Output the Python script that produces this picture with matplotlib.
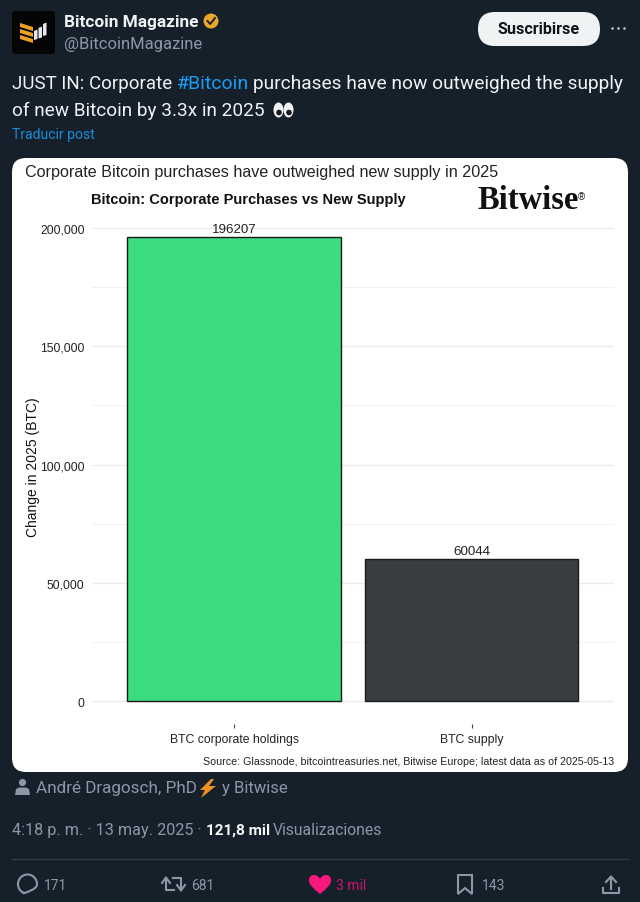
import matplotlib
matplotlib.use("Agg")
import matplotlib.pyplot as plt
from matplotlib.patches import FancyBboxPatch, Polygon, Circle, Ellipse, PathPatch
from matplotlib.path import Path

# chart data
categories = ["BTC corporate holdings", "BTC supply"]
btc_change = [196207, 60044]
bar_colors = ["#3BDD80", "#3A3D40"]
y_ticks = [0, 50000, 100000, 150000, 200000]
y_minor = [25000, 75000, 125000, 175000]

BG = "#15202B"
GREY = "#8B98A5"
WHITE = "#F0F3F5"
BLUE = "#1D9BF0"
W, H = 640, 903


def px_axes(fig, left, top, right, bottom):
    return fig.add_axes([left / W, 1 - bottom / H, (right - left) / W, (bottom - top) / H])


fig = plt.figure(figsize=(6.4, 9.03), dpi=100, facecolor=BG)

# tweet chrome, in pixel coordinates
bg = fig.add_axes([0, 0, 1, 1])
bg.set_xlim(0, W)
bg.set_ylim(H, 0)
bg.axis("off")


def txt(x, y, s, color=WHITE, size=11, weight="normal", ha="left", family="Roboto"):
    return bg.text(x, y, s, color=color, fontsize=size, fontweight=weight, ha=ha, va="center", family=family)


def rbox(x0, y0, x1, y1, r, fc):
    p = FancyBboxPatch((x0 + r, y0 + r), x1 - x0 - 2 * r, y1 - y0 - 2 * r,
                       boxstyle="round,pad=%g,rounding_size=%g" % (r, r), fc=fc, ec="none")
    bg.add_patch(p)


# avatar
rbox(12, 12, 55, 55, 3, "#050505")
for dy in [0, 6, 12]:
    bg.add_patch(Polygon([(20, 24 + dy), (33, 28 + dy), (33, 32 + dy), (20, 28 + dy)], fc="#F0A020", ec="none"))
for x0, top, low in [(34, 32, 41), (38.5, 29, 39.5), (43, 25, 37)]:
    bg.add_patch(Polygon([(x0, top), (x0 + 3.5, top - 1.5), (x0 + 3.5, low - 1), (x0, low)], fc="#E8E8E8", ec="none"))

txt(64, 22, "Bitcoin Magazine", "#F0F3F5", 12.4, "bold")
bg.add_patch(Circle((211, 22), 7.5, fc="#E8A82A", ec="none"))
bg.plot([207.5, 210.2, 215], [22, 25, 19], color="#15202B", lw=1.4)
txt(64, 44, "@BitcoinMagazine", GREY, 12)

rbox(478, 13, 600, 47, 17, "#EFF3F4")
txt(539, 29, "Suscribirse", "#0F1419", 11.6, "bold", ha="center")
bg.scatter([612, 618, 624], [29, 29, 29], s=3.5, color="#C0C8CE", linewidths=0)

# tweet text
txt(12, 84, "JUST IN: Corporate", WHITE, 13.5)
txt(177, 84, "#Bitcoin", BLUE, 14)
txt(253, 84, "purchases have now outweighed the supply", WHITE, 13.8)
txt(12, 111, "of new Bitcoin by 3.3x in 2025", WHITE, 13.7)
for ex in [278.5, 288.5]:
    bg.add_patch(Ellipse((ex, 111), 10, 15, fc="#F2F2F2", ec="none"))
    bg.add_patch(Circle((ex + 0.5, 113.5), 2.8, fc="#1A1A1A", ec="none"))
txt(12, 135, "Traducir post", "#1A8CD8", 10.1)

# chart card
rbox(12, 159, 628, 773, 14, "white")
txt(25, 172, "Corporate Bitcoin purchases have outweighed new supply in 2025", "#222222", 11.6, family="Liberation Sans")
txt(91, 200.5, "Bitcoin: Corporate Purchases vs New Supply", "#111111", 10.5, "bold", family="Liberation Sans")
txt(477, 201, "Bitwise", "#111111", 23.5, "bold", family="Liberation Serif")
txt(578, 197, "\u00ae", "#111111", 7, family="Liberation Sans")

# below the card
bg.add_patch(Circle((22.5, 783.5), 3.6, fc=GREY, ec="none"))
bg.add_patch(Polygon([(15, 796), (16, 790), (19, 788.5), (26, 788.5), (29, 790), (30, 796)], fc=GREY, ec="none"))
txt(36, 789, "Andr\u00e9 Dragosch, PhD", GREY, 12.3)
bg.add_patch(Polygon([(211, 780), (200, 791), (205, 791), (201, 799), (216, 787), (209, 787), (214, 780)], fc="#F09020", ec="none"))
txt(222, 789, "y Bitwise", GREY, 12)

txt(12, 831, "4:18 p. m. \u00b7 13 may. 2025 \u00b7", GREY, 11.7)
txt(206, 831, "121,8 mil", "#F7F9F9", 11, "bold")
txt(273, 831, "Visualizaciones", GREY, 11.35)
bg.plot([12, 628], [860, 860], color="#2F3B47", lw=1)

# action row
M, L, C = Path.MOVETO, Path.LINETO, Path.CURVE4
bubble = Path([(23, 894.5), (23, 893.5),
               (20, 892), (18, 889), (18, 885),
               (18, 880), (22, 875.5), (27.5, 875.5),
               (33, 875.5), (37, 880), (37, 885),
               (37, 890), (30, 892), (23, 894.5)],
              [M, L, C, C, C, C, C, C, C, C, C, C, C, C])
bg.add_patch(PathPatch(bubble, fc="none", ec=GREY, lw=1.5))
txt(44, 886, "171", GREY, 10)
bg.plot([166, 166, 174], [879, 891, 891], color=GREY, lw=1.5)
bg.plot([162, 166, 170], [884, 878.5, 884], color=GREY, lw=1.5)
bg.plot([173, 181, 181], [879, 879, 891], color=GREY, lw=1.5)
bg.plot([177, 181, 185], [886, 891.5, 886], color=GREY, lw=1.5)
txt(191, 886, "681", GREY, 10)
heart = Path([(320, 895),
              (313, 889), (309, 886), (309, 881),
              (309, 875), (317, 874), (320, 880),
              (323, 874), (331, 875), (331, 881),
              (331, 886), (327, 889), (320, 895)],
             [M, C, C, C, C, C, C, C, C, C, C, C, C])
bg.add_patch(PathPatch(heart, fc="#F91880", ec="none"))
txt(336, 886, "3 mil", "#D01468", 10)
bg.add_patch(Polygon([(458, 876), (472, 876), (472, 895), (465, 889), (458, 895)], fc="none", ec=GREY, lw=1.5))
txt(482, 886, "143", GREY, 10)
bg.plot([611, 611], [878, 890], color=GREY, lw=1.5)
bg.plot([606, 611, 616], [883, 877.5, 883], color=GREY, lw=1.5)
bg.plot([603, 603, 619, 619], [889, 894, 894, 889], color=GREY, lw=1.5)

# the bar chart itself
ax = px_axes(fig, 91.5, 215, 614, 725)
ax.patch.set_alpha(0)
x = [1, 2]
ax.bar(x, btc_change, width=0.9, color=bar_colors, edgecolor="#1A1A1A", linewidth=1, zorder=3)
ax.set_xlim(0.4, 2.6)
ax.set_ylim(-9724, 205920)
ax.set_yticks(y_ticks)
ax.set_yticklabels(["{:,}".format(v) for v in y_ticks], family="Liberation Sans", fontsize=8.8, color="#222222")
ax.set_yticks(y_minor, minor=True)
ax.set_xticks(x)
ax.set_xticklabels(categories, family="Liberation Sans", fontsize=8.8, color="#222222")
ax.grid(axis="y", which="major", color="#EBEBEB", lw=0.9, zorder=0)
ax.grid(axis="y", which="minor", color="#F2F2F2", lw=0.7, zorder=0)
ax.tick_params(axis="y", which="both", length=0, pad=5)
ax.tick_params(axis="x", length=3, width=0.8, color="#444444", pad=3.8)
for s in ax.spines.values():
    s.set_visible(False)
for xi, v in zip(x, btc_change):
    ax.text(xi, v + 1000, str(v), ha="center", va="bottom", family="Liberation Sans", fontsize=9.6, color="#222222")
ax.set_ylabel("Change in 2025 (BTC)", family="Liberation Sans", fontsize=10, color="#111111")
ax.yaxis.set_label_coords(-0.098, 0.505)

txt(614, 762, "Source: Glassnode, bitcointreasuries.net, Bitwise Europe; latest data as of 2025-05-13",
    "#222222", 7.7, ha="right", family="Liberation Sans")

fig.savefig("out.png", dpi=100, facecolor=BG)
